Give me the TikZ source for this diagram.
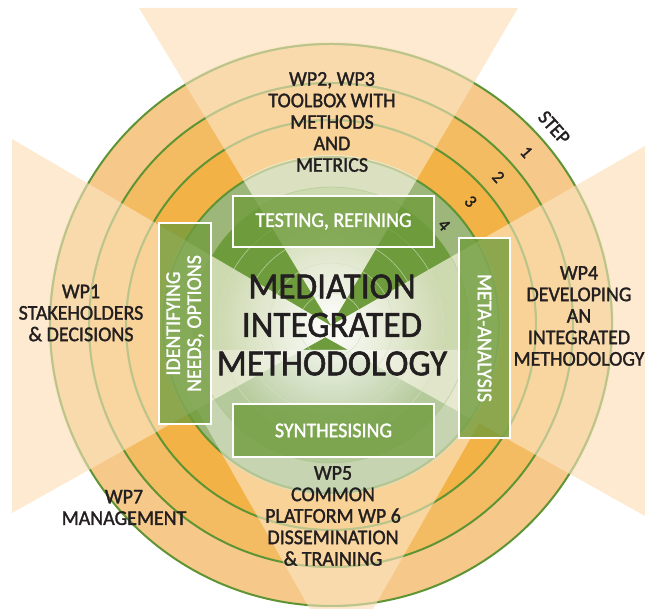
\documentclass[tikz,border=0pt]{standalone}
\usepackage{fontspec}
\setmainfont{Carlito}[FakeStretch=0.95,FakeBold=1.5]
\usetikzlibrary{calc,fadings}

\definecolor{ringone}{HTML}{F6C98A}
\definecolor{ringtwo}{HTML}{F4BC62}
\definecolor{ringthree}{HTML}{F3B245}
\definecolor{leaf}{HTML}{6E9B3B}
\definecolor{leaflight}{HTML}{9DB77A}
\definecolor{stem}{HTML}{5E9433}
\definecolor{olive}{HTML}{B7C48A}
\definecolor{cream}{HTML}{FDEAD0}
\definecolor{creamtint}{HTML}{FCE3C0}
\definecolor{paper}{HTML}{F3F1DD}
\definecolor{mist}{HTML}{DCE4D0}
\definecolor{ink}{HTML}{231F20}

\tikzfading[name=glowfade, inner color=transparent!0, outer color=transparent!100]

\begin{document}
\begin{tikzpicture}[x=1pt,y=1pt,
    sidezones/.style={insert path={(331,284) -- (518,601) -- (139,601) -- cycle
        (338,279) -- (12,470) -- (12,96) -- cycle
        (318,276) -- (645,93) -- (645,463) -- cycle}},
    lowzone/.style={insert path={(163,259) -- (310,0) -- (373,0) -- (521,259) -- cycle}},
    ring/.style={draw=stem, line width=2pt},
    box/.style={fill=leaf, fill opacity=0.78, text opacity=1, draw=white,
        line width=1.2pt, text=white, align=center, inner sep=0pt,
        font=\fontsize{21}{21}\selectfont},
    wp/.style={text=ink, align=center, font=\fontsize{21}{21.5}\selectfont},
    steplabel/.style={text=ink, rotate=-48.5, inner sep=0pt, font=\fontsize{18}{18}\selectfont}]

  \useasboundingbox (0,0) rectangle (645,609);
  \coordinate (C) at (331,284);

  % light zones and step rings
  \fill[cream, sidezones, lowzone];
  \fill[ringone, ring]   (C) circle (281);
  \fill[ringtwo, ring]   (C) circle (242);
  \fill[ringthree, ring] (C) circle (205);
  \begin{scope}
    \clip (C) circle (283);
    \fill[creamtint, opacity=0.66, sidezones, lowzone];
    \path[clip, sidezones, lowzone];
    \foreach \r in {281,242,205}
      \draw[olive, line width=1.8pt, opacity=0.8] (C) circle (\r);
  \end{scope}

  % green core
  \fill[leaflight, ring] (C) circle (168);
  \fill[leaf] (C) circle (138);
  \begin{scope}
    \clip (C) circle (170);
    \fill[mist, opacity=0.65, lowzone];
    \fill[paper, opacity=0.72, sidezones];
    \path[clip, sidezones, lowzone];
    \draw[olive, line width=1.8pt, opacity=0.6] (C) circle (168);
    \fill[white, path fading=glowfade] (C) circle (115);
  \end{scope}
  \draw[leaf!60, line width=0.8pt, opacity=0.5] (C) circle (138);
  \foreach \r in {112,88,62,32}
    \draw[leaf!30, line width=0.6pt, opacity=0.7] (C) circle (\r);

  \node[box, minimum width=201pt, minimum height=51pt] (test) at (333.5,387.5) {TESTING, REFINING};
  \node[box, minimum width=201pt, minimum height=53pt] (synth) at (333.5,178.5) {SYNTHESISING};
  \node[box, rotate=90, minimum width=201pt, minimum height=52pt] (ident) at (185,285.5) {IDENTIFYING\\NEEDS, OPTIONS};
  \node[box, rotate=-90, minimum width=200pt, minimum height=51pt] (meta) at (484.5,271) {META-ANALYSIS};

  \node[text=ink, align=center, font=\fontsize{37}{38.5}\selectfont] (title) at (332,284) {MEDIATION\\INTEGRATED\\METHODOLOGY};

  \node[wp] (wp1) at (81,296)    {WP1\\STAKEHOLDERS\\\& DECISIONS};
  \node[wp] (wp2) at (332,487)   {WP2, WP3\\TOOLBOX WITH\\METHODS\\AND\\METRICS};
  \node[wp] (wp4) at (579,293)   {WP4\\DEVELOPING\\AN\\INTEGRATED\\METHODOLOGY};
  \node[wp] (wp5) at (333,93)    {WP5\\COMMON\\PLATFORM WP 6\\DISSEMINATION\\\& TRAINING};
  \node[wp] (wp7) at (124,101.5) {WP7\\MANAGEMENT};

  \node[steplabel, font=\fontsize{20}{20}\selectfont] (stepname) at ($(C)+(41.5:298)$) {STEP};
  \node[steplabel] (one)   at ($(C)+(41.5:261)$) {1};
  \node[steplabel] (two)   at ($(C)+(41.5:223.5)$) {2};
  \node[steplabel] (three) at ($(C)+(41.5:186.5)$) {3};
  \node[steplabel] (four)  at ($(C)+(41.5:151)$) {4};

\end{tikzpicture}
\end{document}
